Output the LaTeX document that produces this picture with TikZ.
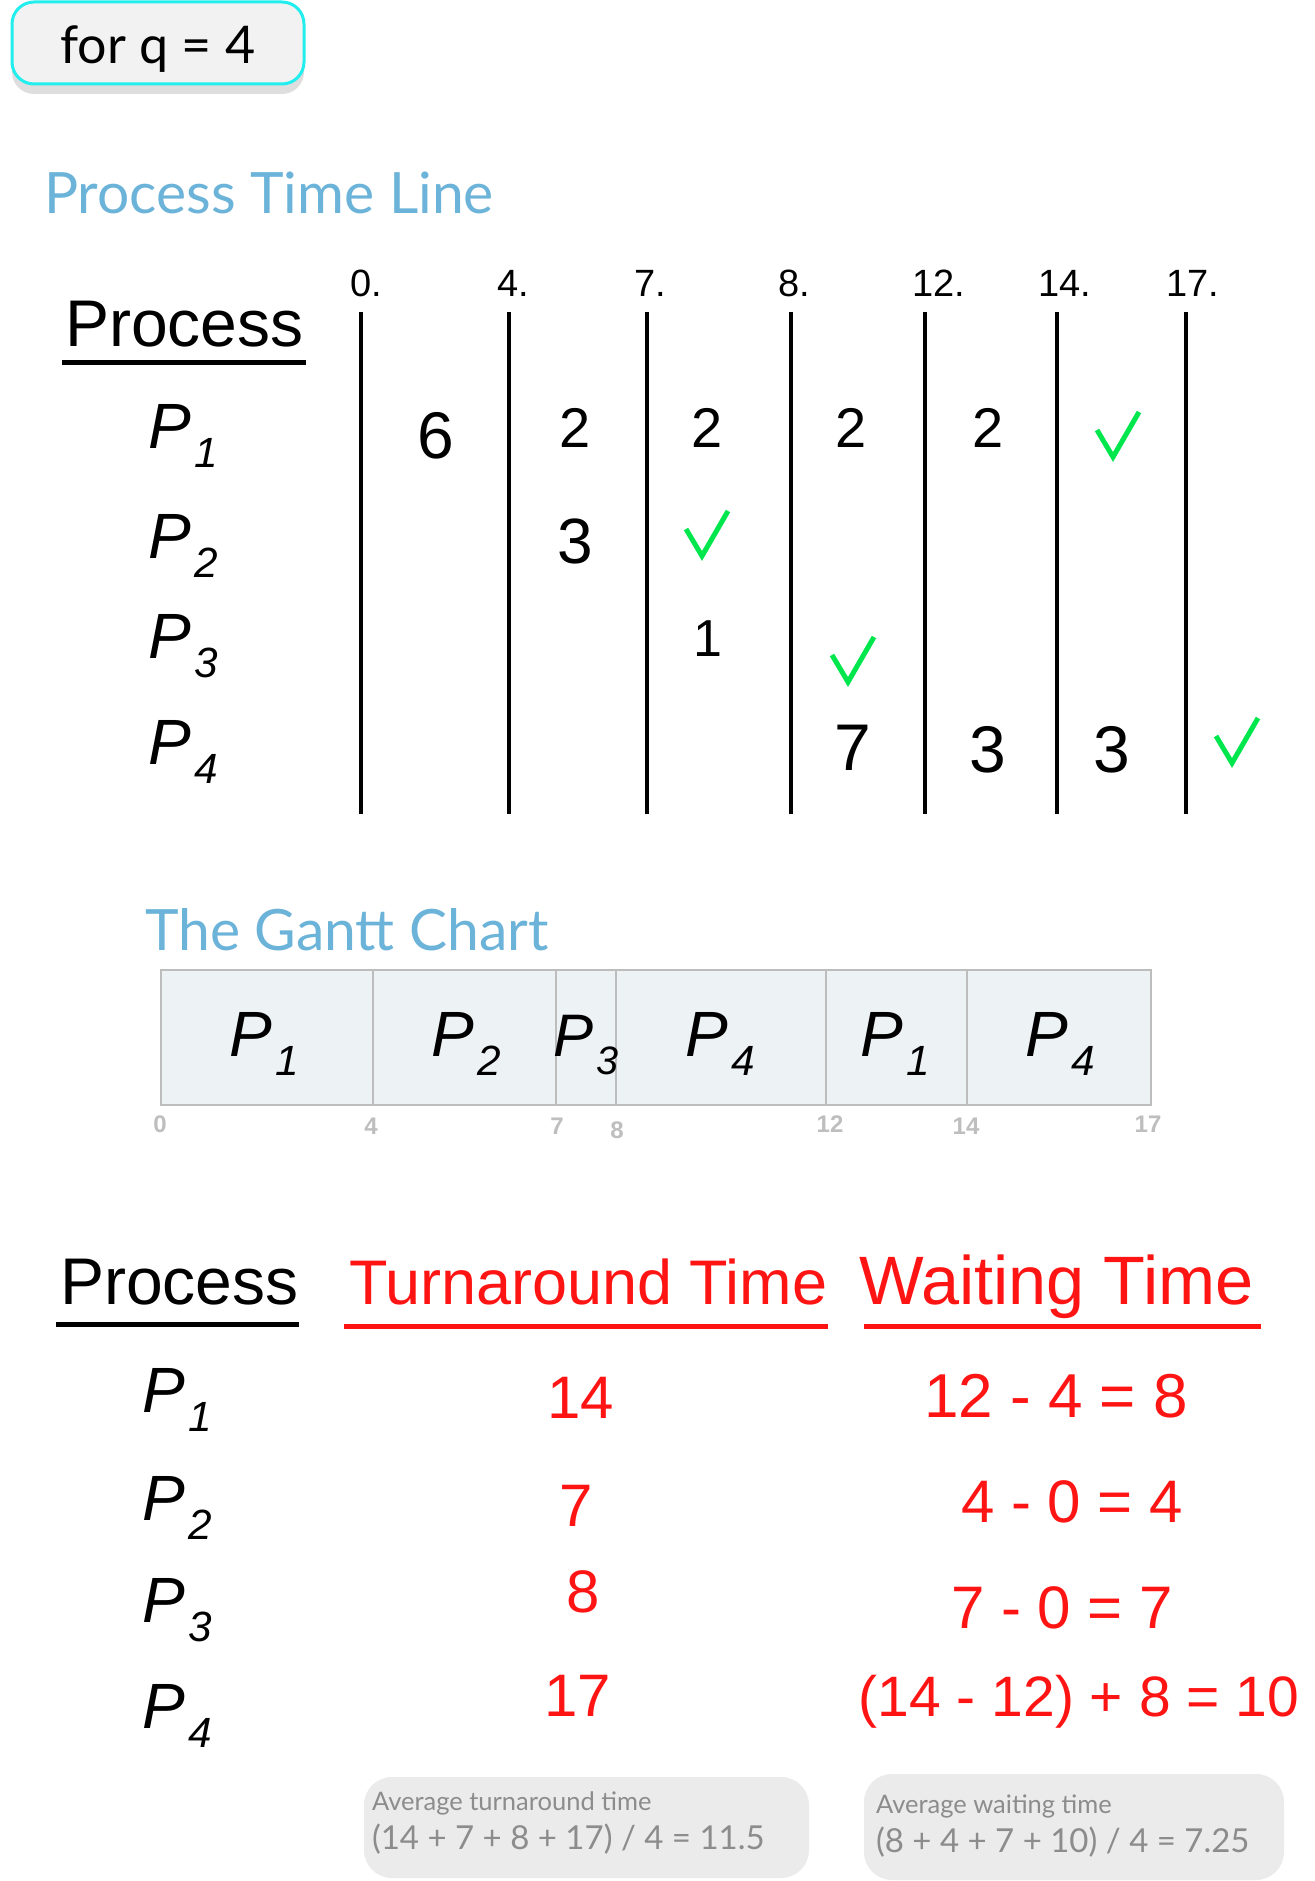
\documentclass[tikz,border=0pt]{standalone}
\usepackage{fontspec}
\setmainfont{Liberation Sans}
\newfontfamily\latofont{Lato}
\usetikzlibrary{shadows}
\definecolor{titleblue}{HTML}{6BB3D8}
\definecolor{redc}{HTML}{FF1414}
\definecolor{checkg}{HTML}{00E64D}
\definecolor{gantfill}{HTML}{EDF2F5}
\definecolor{gantline}{HTML}{BDBDBD}
\definecolor{ganttxt}{HTML}{BEBEBE}
\definecolor{avgfill}{HTML}{EBEBEB}
\definecolor{avgtxt}{HTML}{8C8C8C}
\definecolor{qfill}{HTML}{F2F2F2}
\definecolor{qline}{HTML}{22EEEE}
\newcommand{\fs}[1]{\fontsize{#1}{#1}\selectfont}
\newcommand{\pp}[1]{\textit{P}\kern0.05em\raisebox{-0.3em}{\scalebox{0.66}{\textit{#1}}}}
\begin{document}
\begin{tikzpicture}[x=1pt,y=-1pt,
  every node/.style={inner sep=0pt, outer sep=0pt},
  ttl/.style={font=\latofont\fs{57}, text=titleblue, anchor=base west},
  hdr/.style={font=\fs{66}, anchor=base west},
  tick/.style={font=\fs{38}, anchor=base west},
  plab/.style={font=\fs{64}, anchor=base},
  val/.style={font=\fs{#1}, anchor=center},
  val/.default=58,
  rval/.style={font=\fs{#1}, anchor=center, text=redc},
  rval/.default=60,
  tline/.style={line width=3.5pt},
  uline/.style={line width=5pt},
  chk/.style={draw=checkg, line width=5pt},
  gcell/.style={draw=gantline, fill=gantfill, line width=2.5pt},
  gnum/.style={font=\bfseries\fs{24}, text=ganttxt, anchor=base},
  avgbox/.style={fill=avgfill, rounded corners=28pt},
  avg1/.style={font=\latofont\fs{25.5}, text=avgtxt, anchor=base west},
  avg2/.style={font=\latofont\fs{33}, text=avgtxt, anchor=base west}]
\useasboundingbox (0,0) rectangle (1314,1881);
\fill[white] (0,0) rectangle (1314,1881);

% top box
\node[draw=qline, line width=3pt, fill=qfill, rounded corners=22pt,
  minimum width=292pt, minimum height=82pt,
  drop shadow={shadow xshift=0pt, shadow yshift=-10pt, opacity=0.18, fill=black!70}] (q) at (158,43) {};
\node[font=\latofont\fs{52}, anchor=base] (qt) at (158,64) {for q = 4};

% process time line
\node[ttl] (ptl) at (44,214) {Process Time Line};
\node[hdr] (ph1) at (65,346) {Process};
\coordinate (u1a) at (62,362); \coordinate (u1b) at (306,362);
\draw[uline] (u1a) -- (u1b);

% ticks
\foreach \n/\x/\lx/\lab in {t0/361/350/0., t4/509/497/4., t7/647/634/7., t8/791/778/8., t12/925/912/12., t14/1057/1038/14., t17/1186/1166/17.}{
  \node[tick] (l\n) at (\lx,296) {\lab};
  \coordinate (\n a) at (\x,312); \coordinate (\n b) at (\x,814);
  \draw[tline] (\n a) -- (\n b);
}

% row labels
\node[plab] (r1) at (183,448) {\pp{1}};
\node[plab] (r2) at (183,558) {\pp{2}};
\node[plab] (r3) at (183,658) {\pp{3}};
\node[plab] (r4) at (183,764) {\pp{4}};

% values
\node[val=66] (v11) at (436,436) {6};
\node[val=56] (v12) at (575,428) {2};
\node[val=56] (v13) at (707,428) {2};
\node[val=56] (v14) at (851,428) {2};
\node[val=56] (v15) at (988,428) {2};
\node[val=64] (v22) at (575,541) {3};
\node[val=52] (v33) at (708,639) {1};
\node[val=66] (v44) at (853,748) {7};
\node[val=66] (v45) at (988,750) {3};
\node[val=66] (v46) at (1112,750) {3};

% checks
\draw[chk] (1113,457) ++(-16,-27) -- ++(16,27) -- ++(26,-45);
\draw[chk] (702,556) ++(-16,-27) -- ++(16,27) -- ++(26,-45);
\draw[chk] (848,682) ++(-16,-27) -- ++(16,27) -- ++(26,-45);
\draw[chk] (1232,763) ++(-16,-27) -- ++(16,27) -- ++(26,-45);

% gantt chart
\node[ttl] (gtl) at (145,950) {The Gantt Chart};
\draw[gcell] (161,970) rectangle (373,1105);
\draw[gcell] (373,970) rectangle (556,1105);
\draw[gcell] (556,970) rectangle (616,1105);
\draw[gcell] (616,970) rectangle (826,1105);
\draw[gcell] (826,970) rectangle (967,1105);
\draw[gcell] (967,970) rectangle (1151,1105);
\node[plab] (g1) at (264,1056) {\pp{1}};
\node[plab] (g2) at (466,1056) {\pp{2}};
\node[plab, font=\fs{60}] (g3) at (586,1056) {\pp{3}};
\node[plab] (g4) at (720,1056) {\pp{4}};
\node[plab] (g5) at (895,1056) {\pp{1}};
\node[plab] (g6) at (1060,1056) {\pp{4}};
\node[gnum] (n0) at (160,1132) {0};
\node[gnum] (n4) at (371,1134) {4};
\node[gnum] (n7) at (557,1134) {7};
\node[gnum] (n8) at (617,1138) {8};
\node[gnum] (n12) at (830,1132) {12};
\node[gnum] (n14) at (966,1134) {14};
\node[gnum] (n17) at (1148,1132) {17};

% bottom table
\node[hdr] (ph2) at (60,1304) {Process};
\node[hdr, font=\fs{63}, text=redc] (tat) at (349,1304) {Turnaround Time};
\node[hdr, font=\fs{68.5}, text=redc] (wt) at (859,1304) {Waiting Time};
\coordinate (u2a) at (56,1324); \coordinate (u2b) at (299,1324);
\draw[uline] (u2a) -- (u2b);
\coordinate (u3a) at (344,1326); \coordinate (u3b) at (828,1326);
\draw[uline, draw=redc] (u3a) -- (u3b);
\coordinate (u4a) at (864,1326); \coordinate (u4b) at (1261,1326);
\draw[uline, draw=redc] (u4a) -- (u4b);

\node[plab] (b1) at (177,1412) {\pp{1}};
\node[plab] (b2) at (177,1520) {\pp{2}};
\node[plab] (b3) at (177,1622) {\pp{3}};
\node[plab] (b4) at (177,1728) {\pp{4}};

\node[rval] (ta1) at (581,1398) {14};
\node[rval] (ta2) at (576,1506) {7};
\node[rval] (ta3) at (583,1592) {8};
\node[rval] (ta4) at (578,1696) {17};

\node[rval=62] (w1) at (1056,1396) {12 - 4 = 8};
\node[rval=60] (w2) at (1072,1502) {4 - 0 = 4};
\node[rval=60] (w3) at (1062,1608) {7 - 0 = 7};
\node[rval=57] (w4) at (1079,1702) {(14 - 12) + 8 = 10};

% averages
\fill[avgbox] (364,1777) rectangle (809,1878);
\fill[avgbox] (864,1774) rectangle (1284,1880);
\node[avg1] (a1) at (372,1810) {Average turnaround time};
\node[avg2] (a2) at (372,1849) {(14 + 7 + 8 + 17) / 4 = 11.5};
\node[avg1] (a3) at (876,1813) {Average waiting time};
\node[avg2] (a4) at (876,1852) {(8 + 4 + 7 + 10) / 4 = 7.25};
\end{tikzpicture}
\end{document}
